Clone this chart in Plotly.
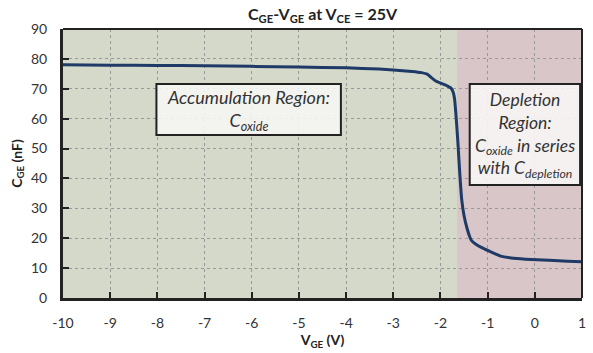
import plotly.graph_objects as go

# Data
vge = [-10, -9, -8, -7, -6, -5, -4, -3.3, -3.0, -2.6, -2.4, -2.28, -2.2, -2.1, -2.0, -1.86, -1.78, -1.73, -1.70,
       -1.67, -1.63, -1.59, -1.55, -1.50, -1.44, -1.38, -1.34, -1.25, -1.09, -0.9, -0.74, -0.5, -0.2, 0.3, 0.7, 1.0]
cge = [78.0, 77.9, 77.8, 77.7, 77.5, 77.3, 77.0, 76.6, 76.3, 75.8, 75.4, 74.9, 73.8, 72.6, 71.9, 71.0, 70.3, 68.8, 66.5,
       61.0, 52.0, 41.5, 33.0, 27.5, 23.5, 20.5, 19.2, 18.0, 16.6, 15.2, 14.1, 13.4, 13.0, 12.6, 12.3, 12.1]

boundary_v = -1.65
x_min, x_max = -10, 1
y_min, y_max = 0, 90
x_ticks = list(range(-10, 2))
y_ticks = list(range(0, 100, 10))

title_text = "C<sub>GE</sub>-V<sub>GE</sub> at V<sub>CE</sub> = 25V"
x_title = "V<sub>GE</sub> (V)"
y_title = "C<sub>GE</sub> (nF)"
acc_text = "Accumulation Region:<br>C<sub>oxide</sub>"
dep_text = "Depletion<br>Region:<br>C<sub>oxide</sub> in series<br>with C<sub>depletion</sub>"

FONT = "Lato"
DARK = "#222222"

fig = go.Figure()
fig.add_trace(go.Scatter(x=vge, y=cge, mode="lines",
                         line=dict(color="#1f3a66", width=3, shape="spline", smoothing=0.4),
                         hoverinfo="skip", showlegend=False))

shapes = [
    # region backgrounds
    dict(type="rect", xref="x", yref="y", x0=x_min, x1=boundary_v, y0=y_min, y1=y_max,
         fillcolor="#d4d9c9", line=dict(width=0), layer="below"),
    dict(type="rect", xref="x", yref="y", x0=boundary_v, x1=x_max, y0=y_min, y1=y_max,
         fillcolor="#d8c6c8", line=dict(width=0), layer="below"),
    # text boxes
    dict(type="rect", xref="x", yref="y", x0=-8.02, x1=-4.11, y0=54.5, y1=71.6,
         fillcolor="rgba(247,247,245,0.88)", line=dict(color=DARK, width=2), layer="above"),
    dict(type="rect", xref="x", yref="y", x0=-1.38, x1=0.96, y0=37.8, y1=71.6,
         fillcolor="rgba(247,247,245,0.88)", line=dict(color=DARK, width=2), layer="above"),
    # top and right frame
    dict(type="line", xref="paper", yref="paper", x0=0, x1=1, y0=1, y1=1,
         line=dict(color=DARK, width=2), layer="above"),
    dict(type="line", xref="paper", yref="paper", x0=1, x1=1, y0=0, y1=1,
         line=dict(color=DARK, width=2), layer="above"),
]

annotations = [
    dict(xref="x", yref="y", x=(-8.02 + -4.11) / 2, y=(54.5 + 71.6) / 2, text=acc_text, showarrow=False,
         font=dict(family=FONT, size=18, color="#333333", style="italic"), align="center"),
    dict(xref="x", yref="y", x=(-1.38 + 0.96) / 2, y=(37.8 + 71.6) / 2, text=dep_text, showarrow=False,
         font=dict(family=FONT, size=17.5, color="#333333", style="italic"), align="center"),
    dict(xref="paper", yref="paper", x=0.5, y=1.0, yshift=2, xanchor="center", yanchor="bottom",
         text=title_text, showarrow=False,
         font=dict(family=FONT, size=16, color="#222222", weight="bold")),
]

fig.update_layout(
    width=593, height=353,
    margin=dict(l=63, r=7, t=29, b=55),
    paper_bgcolor="white", plot_bgcolor="white",
    font=dict(family=FONT, color="#333333", size=13),
    shapes=shapes, annotations=annotations,
    xaxis=dict(range=[x_min, x_max], tickvals=x_ticks, ticktext=[str(t) for t in x_ticks],
               showgrid=True, gridcolor="#999999", griddash="dot", gridwidth=1,
               showline=True, linecolor=DARK, linewidth=3, zeroline=False,
               ticks="inside", ticklen=6, tickcolor=DARK, tickwidth=2,
               tickfont=dict(size=14, color="#333333"), ticklabelstandoff=10,
               title=dict(text=x_title, font=dict(size=14, color="#222222", weight="bold"), standoff=4)),
    yaxis=dict(range=[y_min, y_max], tickvals=y_ticks,
               showgrid=True, gridcolor="#999999", griddash="dot", gridwidth=1,
               showline=True, linecolor=DARK, linewidth=3, zeroline=False,
               ticks="inside", ticklen=6, tickcolor=DARK, tickwidth=2,
               tickfont=dict(size=14, color="#333333"), ticklabelstandoff=10,
               title=dict(text=y_title, font=dict(size=14, color="#222222", weight="bold"), standoff=6)),
)

fig.write_html("out.html")
